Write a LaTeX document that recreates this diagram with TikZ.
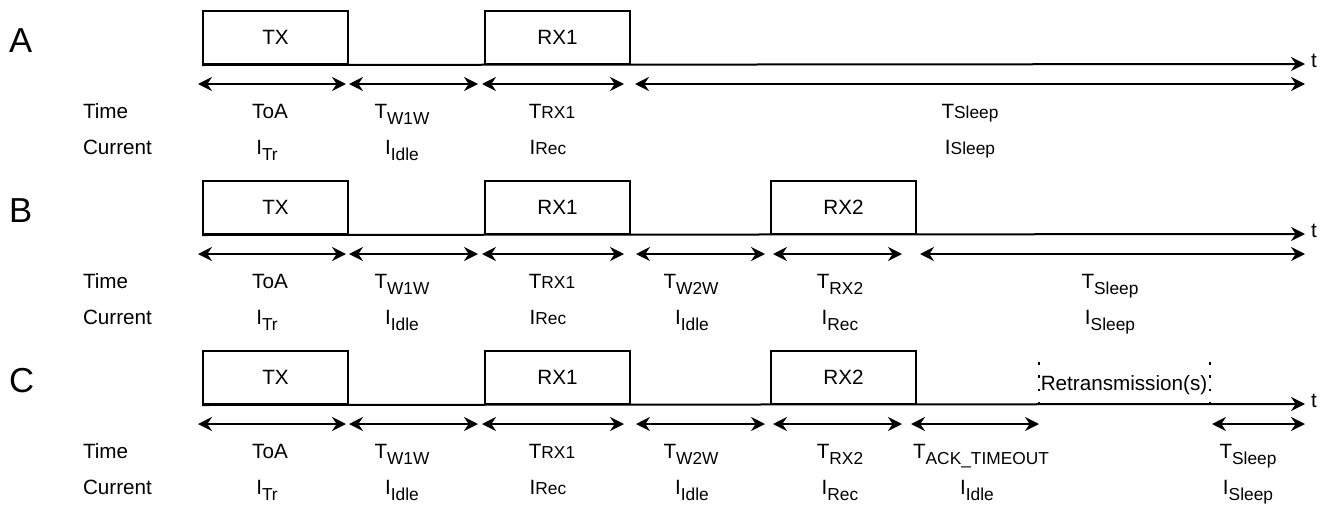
\documentclass[tikz,border=0pt]{standalone}
\usepackage{fontspec}
\setmainfont{Liberation Sans}
\usepackage{tikz}
\usetikzlibrary{arrows.meta}

\newcommand{\lowsub}[1]{\raisebox{-4.5pt}{\fontsize{13}{13}\selectfont #1}}
\newcommand{\flatsub}[1]{{\fontsize{13}{13}\selectfont #1}}

\tikzset{
  slot/.style={draw, rectangle, minimum width=108.75pt, minimum height=39.75pt, inner sep=0pt, font=\fontsize{15.5}{18}\selectfont},
  rowname/.style={anchor=base west, inner sep=0pt, font=\fontsize{26}{30}\selectfont},
  info/.style={anchor=base west, inner sep=0pt, font=\fontsize{15.5}{18}\selectfont},
  val/.style={anchor=base, inner sep=0pt, font=\fontsize{15.5}{18}\selectfont},
  span/.style={<->},
  retry/.style={line width=2pt, dash pattern=on 2pt off 8pt},
}

\begin{document}
\begin{tikzpicture}[x=0.75pt, y=-0.75pt, line width=1.5pt, >={Stealth[length=10.5pt,width=10.5pt,inset=3.5pt]}]
\useasboundingbox (0,0) rectangle (1325,504);

% row A
\node[rowname] (rowA) at (8,52) {A};
\node[slot] (aTX) at (275.5,37.5) {TX};
\node[slot] (aRX1) at (557.5,37.5) {RX1};
\coordinate (aEnd) at (1305,64);
\draw[->] (aTX.south west) -- (aEnd);
\node[info] (aT) at (1310,67) {t};

\coordinate (a1) at (198,84); \coordinate (a2) at (346,84);
\coordinate (a3) at (349,84); \coordinate (a4) at (478,84);
\coordinate (a5) at (482,84); \coordinate (a6) at (624,84);
\coordinate (a7) at (635,84); \coordinate (a8) at (1305,84);
\draw[span] (a1) -- (a2);
\draw[span] (a3) -- (a4);
\draw[span] (a5) -- (a6);
\draw[span] (a7) -- (a8);

\node[info] (aTime) at (82,118) {Time};
\node[info] (aCur) at (82,154) {Current};
\node[val] (aToA) at (270,118) {ToA};
\node[val] (aTW1W) at (402,118) {T\lowsub{W1W}};
\node[val] (aTRX1) at (552,118) {T\flatsub{RX1}};
\node[val] (aTSl) at (970,118) {T\flatsub{Sleep}};
\node[val] (aITr) at (267,154) {I\lowsub{Tr}};
\node[val] (aIId) at (402,154) {I\lowsub{Idle}};
\node[val] (aIRec) at (548,154) {I\flatsub{Rec}};
\node[val] (aISl) at (970,154) {I\flatsub{Sleep}};

% row B
\node[rowname] (rowB) at (8,222) {B};
\node[slot] (bTX) at (275.5,207.5) {TX};
\node[slot] (bRX1) at (557.5,207.5) {RX1};
\node[slot] (bRX2) at (843.5,207.5) {RX2};
\coordinate (bEnd) at (1305,234);
\draw[->] (bTX.south west) -- (bEnd);
\node[info] (bT) at (1310,237) {t};

\coordinate (b1) at (198,254); \coordinate (b2) at (346,254);
\coordinate (b3) at (349,254); \coordinate (b4) at (478,254);
\coordinate (b5) at (482,254); \coordinate (b6) at (624,254);
\coordinate (b7) at (636,254); \coordinate (b8) at (765,254);
\coordinate (b9) at (773,254); \coordinate (b10) at (902,254);
\coordinate (b11) at (920,254); \coordinate (b12) at (1305,254);
\draw[span] (b1) -- (b2);
\draw[span] (b3) -- (b4);
\draw[span] (b5) -- (b6);
\draw[span] (b7) -- (b8);
\draw[span] (b9) -- (b10);
\draw[span] (b11) -- (b12);

\node[info] (bTime) at (82,288) {Time};
\node[info] (bCur) at (82,324) {Current};
\node[val] (bToA) at (270,288) {ToA};
\node[val] (bTW1W) at (402,288) {T\lowsub{W1W}};
\node[val] (bTRX1) at (552,288) {T\flatsub{RX1}};
\node[val] (bTW2W) at (691,288) {T\lowsub{W2W}};
\node[val] (bTRX2) at (840,288) {T\lowsub{RX2}};
\node[val] (bTSl) at (1110,288) {T\lowsub{Sleep}};
\node[val] (bITr) at (267,324) {I\lowsub{Tr}};
\node[val] (bIId) at (402,324) {I\lowsub{Idle}};
\node[val] (bIRec) at (548,324) {I\flatsub{Rec}};
\node[val] (bIId2) at (692,324) {I\lowsub{Idle}};
\node[val] (bIRec2) at (840,324) {I\lowsub{Rec}};
\node[val] (bISl) at (1110,324) {I\lowsub{Sleep}};

% row C
\node[rowname] (rowC) at (8,392) {C};
\node[slot] (cTX) at (275.5,377.5) {TX};
\node[slot] (cRX1) at (557.5,377.5) {RX1};
\node[slot] (cRX2) at (843.5,377.5) {RX2};
\coordinate (cEnd) at (1305,404);
\draw[->] (cTX.south west) -- (cEnd);
\node[info] (cT) at (1310,407) {t};

\coordinate (r1) at (1039,362); \coordinate (r2) at (1039,404);
\coordinate (r3) at (1210,362); \coordinate (r4) at (1210,404);
\draw[retry] (r1) -- (r2);
\draw[retry] (r3) -- (r4);
\node[val, anchor=center] (cRetr) at (1124,385) {Retransmission(s)};

\coordinate (c1) at (198,424); \coordinate (c2) at (346,424);
\coordinate (c3) at (349,424); \coordinate (c4) at (478,424);
\coordinate (c5) at (482,424); \coordinate (c6) at (624,424);
\coordinate (c7) at (636,424); \coordinate (c8) at (765,424);
\coordinate (c9) at (773,424); \coordinate (c10) at (902,424);
\coordinate (c11) at (911,424); \coordinate (c12) at (1039,424);
\coordinate (c13) at (1212,424); \coordinate (c14) at (1305,424);
\draw[span] (c1) -- (c2);
\draw[span] (c3) -- (c4);
\draw[span] (c5) -- (c6);
\draw[span] (c7) -- (c8);
\draw[span] (c9) -- (c10);
\draw[span] (c11) -- (c12);
\draw[span] (c13) -- (c14);

\node[info] (cTime) at (82,458) {Time};
\node[info] (cCur) at (82,494) {Current};
\node[val] (cToA) at (270,458) {ToA};
\node[val] (cTW1W) at (402,458) {T\lowsub{W1W}};
\node[val] (cTRX1) at (552,458) {T\flatsub{RX1}};
\node[val] (cTW2W) at (691,458) {T\lowsub{W2W}};
\node[val] (cTRX2) at (840,458) {T\lowsub{RX2}};
\node[val] (cTAck) at (981,458) {T\lowsub{ACK\_TIMEOUT}};
\node[val] (cTSl) at (1248,458) {T\lowsub{Sleep}};
\node[val] (cITr) at (267,494) {I\lowsub{Tr}};
\node[val] (cIId) at (402,494) {I\lowsub{Idle}};
\node[val] (cIRec) at (548,494) {I\flatsub{Rec}};
\node[val] (cIId2) at (692,494) {I\lowsub{Idle}};
\node[val] (cIRec2) at (840,494) {I\lowsub{Rec}};
\node[val] (cIId3) at (977,494) {I\lowsub{Idle}};
\node[val] (cISl) at (1248,494) {I\lowsub{Sleep}};
\end{tikzpicture}
\end{document}
